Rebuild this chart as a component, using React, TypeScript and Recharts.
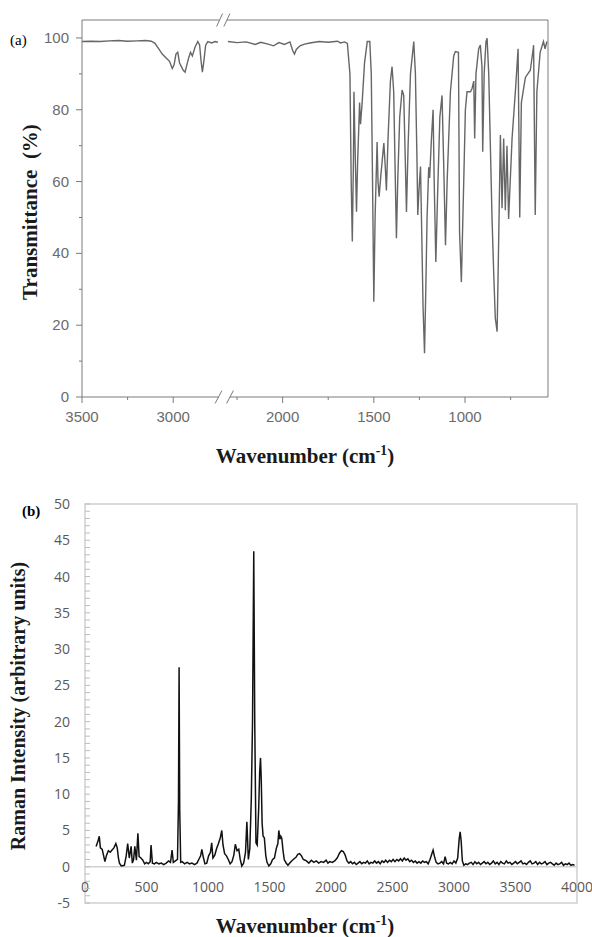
import { LineChart, Line, XAxis, YAxis, ReferenceLine, ReferenceArea } from "recharts";

// ---- (a) FTIR spectrum, broken x axis (2750..2300 cm-1 removed) ----
const IR_LEFT_WN = [
  3500, 3450, 3400, 3350, 3300, 3250, 3200, 3150, 3120, 3100, 3080, 3060, 3040, 3020, 3005, 2995,
  2985, 2975, 2965, 2955, 2945, 2935, 2925, 2915, 2905, 2895, 2880, 2865, 2855, 2848, 2840, 2832,
  2822, 2810, 2790, 2770, 2755,
];
const IR_LEFT_T = [
  99.0, 99.1, 99.0, 99.2, 99.3, 99.1, 99.2, 99.3, 99.1, 98.5, 97.0, 95.5, 94.5, 93.5, 91.5, 92.5,
  95.5, 96.0, 93.0, 92.0, 91.0, 90.5, 92.5, 94.5, 96.0, 95.0, 97.5, 99.0, 98.0, 94.0, 90.5, 93.5,
  98.0, 99.0, 98.6, 99.0, 98.8,
];

const IR_RIGHT_WN = [
  2300, 2250, 2200, 2150, 2120, 2080, 2050, 2020, 1990, 1960, 1945, 1935, 1925, 1905, 1880, 1850,
  1800, 1750, 1700, 1682, 1660, 1645, 1631, 1624, 1618, 1612, 1609, 1603, 1595, 1589, 1578, 1573,
  1564, 1551, 1536, 1522, 1514, 1507, 1500, 1493, 1482, 1477, 1471, 1461, 1445, 1436, 1431, 1422,
  1409, 1400, 1391, 1382, 1376, 1369, 1358, 1345, 1336, 1327, 1321, 1312, 1299, 1281, 1272, 1263,
  1259, 1252, 1244, 1237, 1230, 1222, 1215, 1208, 1199, 1194, 1184, 1175, 1169, 1160, 1151, 1138,
  1126, 1117, 1107, 1098, 1080, 1062, 1053, 1036, 1030, 1020, 1007, 998, 989, 970, 961, 952,
  947, 940, 925, 916, 907, 903, 895, 885, 879, 870, 861, 852, 843, 834, 824, 815,
  806, 797, 788, 779, 770, 761, 742, 724, 709, 700, 691, 669, 642, 626, 624, 615,
  606, 588, 570, 561, 551,
];
const IR_RIGHT_T = [
  99.0, 98.7, 98.9, 98.2, 98.8, 98.3, 97.8, 98.7, 98.2, 98.9, 96.5, 95.5, 96.8, 97.8, 98.3, 98.6,
  99.0, 98.8, 99.1, 98.6, 98.9, 98.5, 90, 60, 43.3, 65, 85, 70, 51.6, 65, 82, 76,
  82, 93, 99, 99, 90, 60, 26.5, 50, 71, 60, 55.8, 62, 70.7, 63, 57.5, 72,
  88, 92, 85, 60, 44.2, 60, 78, 85.5, 84, 65, 51.5, 70, 90, 99, 90, 65,
  50.7, 58, 64.2, 45, 25, 12.2, 30, 50, 64, 61, 72, 80, 60, 37.6, 55, 78,
  84, 65, 42.3, 60, 85, 95, 96.2, 96, 46, 32, 60, 80, 85, 85, 86, 88,
  72, 90, 97, 98, 92, 68.3, 90, 99, 99.9, 90, 70, 50, 35, 22, 18.2, 45,
  73, 52.6, 72, 52, 70, 49.6, 72, 85, 97, 50, 82, 89, 91, 97, 98, 50.7,
  85, 96, 99, 97, 99,
];

const IR_MAJOR_WN = [3500, 3000, 2000, 1500, 1000];
const IR_MINOR_WN = [3250, 2250, 1750, 1250, 750];
const IR_Y_TICKS = [0, 10, 20, 30, 40, 50, 60, 70, 80, 90, 100];

// ---- (b) Raman spectrum ----
const RAMAN_WN = [
  90, 105, 116, 125, 140, 162, 175, 190, 205, 220, 235, 251, 262, 272, 280, 295,
  320, 335, 347, 360, 375, 385, 395, 405, 418, 430, 440, 455, 470, 485, 500, 515,
  530, 537, 548, 565, 580, 600, 620, 640, 660, 680, 695, 708, 718, 735, 752, 760,
  765, 770, 778, 790, 810, 830, 850, 870, 890, 910, 925, 940, 950, 962, 975, 990,
  1005, 1020, 1030, 1040, 1055, 1070, 1085, 1100, 1112, 1122, 1135, 1150, 1165, 1180, 1195, 1210,
  1222, 1236, 1250, 1262, 1275, 1290, 1305, 1316, 1328, 1340, 1352, 1362, 1372, 1380, 1390, 1400,
  1412, 1420, 1427, 1433, 1440, 1448, 1458, 1470, 1480, 1495, 1510, 1525, 1540, 1555, 1568, 1576,
  1584, 1592, 1600, 1610, 1620, 1635, 1650, 1665, 1680, 1700, 1715, 1730, 1745, 1760, 1775, 1790,
  1800, 1820, 1840, 1860, 1880, 1900, 1920, 1940, 1960, 1975, 1990, 2010, 2030, 2050, 2070, 2085,
  2100, 2115, 2130, 2145, 2160, 2175, 2190, 2205, 2220, 2235, 2250, 2265, 2280, 2295, 2310, 2325,
  2340, 2355, 2370, 2385, 2400, 2415, 2430, 2445, 2460, 2475, 2490, 2505, 2520, 2535, 2550, 2565,
  2580, 2595, 2610, 2625, 2640, 2655, 2670, 2685, 2700, 2715, 2730, 2745, 2760, 2775, 2790, 2805,
  2820, 2830, 2840, 2855, 2870, 2885, 2900, 2915, 2928, 2940, 2955, 2970, 2985, 3000, 3015, 3030,
  3042, 3050, 3058, 3068, 3080, 3095, 3110, 3125, 3140, 3155, 3170, 3185, 3200, 3215, 3230, 3245,
  3260, 3275, 3290, 3305, 3320, 3335, 3350, 3365, 3380, 3395, 3410, 3425, 3440, 3455, 3470, 3485,
  3500, 3515, 3530, 3545, 3560, 3575, 3590, 3605, 3620, 3635, 3650, 3665, 3680, 3695, 3710, 3725,
  3740, 3755, 3770, 3785, 3800, 3815, 3830, 3845, 3860, 3875, 3890, 3905, 3920, 3935, 3950, 3965,
  3980,
];
const RAMAN_I = [
  2.8, 3.5, 4.2, 2.6, 2.4, 0.7, 1.6, 2.2, 2.0, 2.3, 2.6, 3.2, 2.6, 1.2, 0.5, 0.1,
  0.2, 1.5, 3.2, 1.2, 2.8, 0.5, 1.0, 2.8, 0.9, 4.6, 1.4, 1.2, 0.9, 0.4, 0.6, 0.4,
  0.7, 3.0, 0.5, 0.4, 0.6, 0.4, 0.5, 0.3, 0.5, 0.8, 0.6, 2.3, 0.6, 0.8, 1.0, 9,
  27.5, 8, 0.6, 0.7, 0.4, 0.6, 0.4, 0.5, 0.3, 0.5, 1.0, 1.5, 2.4, 1.3, 0.4, 0.5,
  1.5, 2.0, 3.3, 1.2, 1.6, 2.5, 3.2, 4.0, 5.0, 3.0, 1.8, 1.5, 1.0, 0.4, 0.7, 1.6,
  3.1, 2.2, 2.4, 1.0, 0.1, 0.5, 2.0, 6.2, 1.0, 2.5, 9.3, 20, 43.5, 20, 3.3, 3.0,
  8, 13, 15, 12, 6, 4.2, 4.0, 1.5, 0.6, 0.1, 0.4, 1.0, 1.2, 2.5, 3.2, 5.0,
  3.8, 4.2, 3.9, 2.2, 1.0, 0.5, 0.2, 0.5, 0.8, 1.1, 1.3, 1.7, 1.8, 1.5, 1.0, 0.9,
  0.8, 0.5, 0.9, 0.6, 0.8, 0.5, 0.7, 0.6, 0.9, 0.5, 0.7, 0.6, 0.8, 1.2, 1.9, 2.2,
  2.1, 1.6, 0.8, 0.5, 0.7, 0.4, 0.6, 0.3, 0.5, 0.7, 0.4, 0.6, 0.5, 0.8, 0.4, 0.6,
  0.5, 0.8, 0.5, 0.7, 0.4, 0.8, 0.6, 0.9, 0.6, 0.9, 0.7, 1.0, 0.7, 1.0, 0.8, 1.1,
  0.8, 1.2, 0.9, 1.1, 0.7, 0.9, 0.6, 0.8, 0.5, 0.7, 0.5, 0.8, 0.6, 0.7, 0.4, 1.0,
  1.8, 2.3, 1.5, 0.6, 0.4, 0.5, 0.7, 0.4, 1.4, 0.5, 0.4, 0.6, 0.4, 0.8, 0.5, 1.2,
  3.8, 4.8, 3.6, 0.8, 0.2, 0.4, 0.3, 0.5, 0.6, 0.3, 0.7, 0.4, 0.6, 0.3, 0.5, 0.7,
  0.4, 0.6, 0.3, 0.5, 0.8, 0.4, 0.6, 0.3, 0.7, 0.5, 0.4, 0.8, 0.5, 0.6, 0.3, 0.5,
  0.7, 0.4, 0.6, 0.8, 0.4, 0.5, 0.3, 0.6, 0.8, 0.4, 0.5, 0.7, 0.3, 0.6, 0.4, 0.5,
  0.7, 0.3, 0.5, 0.6, 0.4, 0.2, 0.5, 0.3, 0.4, 0.6, 0.2, 0.4, 0.3, 0.5, 0.2, 0.3,
  0.2,
];
const RAMAN_X_TICKS = [0, 500, 1000, 1500, 2000, 2500, 3000, 3500, 4000];
const RAMAN_Y_TICKS = Array.from({ length: 56 }, (_, i) => i - 5);

const GAP = 400; // cm-1 cut out of the IR axis
const toP = (w: number) => (w >= 2700 ? w : w + GAP);
const fromP = (p: number) => (p > 2700 ? p : p - GAP);

const irData = [
  ...IR_LEFT_WN.map((w, i) => ({ p: toP(w), t: IR_LEFT_T[i] })),
  { p: 2720, t: null },
  ...IR_RIGHT_WN.map((w, i) => ({ p: toP(w), t: IR_RIGHT_T[i] })),
];
const ramanData = RAMAN_WN.map((w, i) => ({ w, v: RAMAN_I[i] }));

const IR_AXIS = "#7a7a7a";
const IR_TEXT = "#6b6b6b";
const R_FRAME = "#d0d0d0";
const R_TEXT = "#595959";
const serif = "'Liberation Serif', 'Times New Roman', serif";

const IrXTick = ({ x, y, payload }: any) => {
  const major = IR_MAJOR_WN.map(toP).includes(payload.value);
  return (
    <g>
      <line x1={x} x2={x} y1={y} y2={y + (major ? 6 : 3)} stroke={IR_AXIS} />
      {major && (
        <text x={x} y={y + 25} textAnchor="middle" fontSize={15} fill={IR_TEXT} fontFamily="'Liberation Sans', Arial">
          {fromP(payload.value)}
        </text>
      )}
    </g>
  );
};

const IrYTick = ({ x, y, payload }: any) => {
  const major = payload.value % 20 === 0;
  return (
    <g>
      <line x1={x - (major ? 6 : 3)} x2={x} y1={y} y2={y} stroke={IR_AXIS} />
      {major && (
        <text x={x - 13} y={y + 5} textAnchor="end" fontSize={15} fill={IR_TEXT} fontFamily="'Liberation Sans', Arial">
          {payload.value}
        </text>
      )}
    </g>
  );
};

const RamanXTick = ({ x, y, payload }: any) => (
  <text x={x} y={y - 11} textAnchor="middle" fontSize={14} fill={R_TEXT} fontFamily="'Open Sans', sans-serif">
    {payload.value}
  </text>
);

const RamanYTick = ({ x, y, payload }: any) => {
  const major = payload.value % 5 === 0;
  return (
    <g>
      <line x1={x} x2={x + 5} y1={y} y2={y} stroke="#bdbdbd" />
      {major && (
        <text x={x - 15} y={y + 5} textAnchor="end" fontSize={14} fill={R_TEXT} fontFamily="'Open Sans', sans-serif">
          {payload.value}
        </text>
      )}
    </g>
  );
};

const Title = ({ x, y, rotate, size, children }: any) => (
  <div
    style={{
      position: "absolute",
      left: x,
      top: y,
      transform: `translate(-50%, -50%)${rotate ? " rotate(-90deg)" : ""}`,
      whiteSpace: "nowrap",
      fontFamily: serif,
      fontWeight: "bold",
      fontSize: size,
      color: "#1a1a1a",
      lineHeight: 1,
    }}
  >
    {children}
  </div>
);

export default function App() {
  return (
    <div style={{ position: "absolute", left: 0, top: 0, width: 592, height: 937, background: "#fff" }}>
      <div style={{ position: "absolute", left: 0, top: 0 }}>
        <LineChart width={592} height={440} data={irData} margin={{ top: 20, right: 44, bottom: 0, left: 0 }}>
          <XAxis
            type="number"
            dataKey="p"
            domain={[945, 3500]}
            reversed
            ticks={[...IR_MAJOR_WN, ...IR_MINOR_WN].map(toP)}
            interval={0}
            tickSize={0}
            tickMargin={0}
            tick={<IrXTick />}
            axisLine={false}
            height={43}
          />
          <YAxis
            type="number"
            domain={[0, 105]}
            ticks={IR_Y_TICKS}
            interval={0}
            tickSize={0}
            tickMargin={0}
            tick={<IrYTick />}
            axisLine={{ stroke: IR_AXIS }}
            width={82}
          />
          {/* frame with break */}
          <ReferenceLine segment={[{ x: 3500, y: 0 }, { x: 2750, y: 0 }]} stroke={IR_AXIS} ifOverflow="visible" />
          <ReferenceLine segment={[{ x: 2690, y: 0 }, { x: 945, y: 0 }]} stroke={IR_AXIS} ifOverflow="visible" />
          <ReferenceLine segment={[{ x: 3500, y: 105 }, { x: 2745, y: 105 }]} stroke={IR_AXIS} ifOverflow="visible" />
          <ReferenceLine segment={[{ x: 2705, y: 105 }, { x: 945, y: 105 }]} stroke={IR_AXIS} ifOverflow="visible" />
          <ReferenceLine segment={[{ x: 945, y: 0 }, { x: 945, y: 105 }]} stroke={IR_AXIS} ifOverflow="visible" />
          <ReferenceLine segment={[{ x: 2762, y: 103.2 }, { x: 2729, y: 106.8 }]} stroke={IR_AXIS} ifOverflow="visible" />
          <ReferenceLine segment={[{ x: 2722, y: 103.2 }, { x: 2689, y: 106.8 }]} stroke={IR_AXIS} ifOverflow="visible" />
          <ReferenceLine segment={[{ x: 2770, y: -1.8 }, { x: 2733, y: 1.8 }]} stroke={IR_AXIS} ifOverflow="visible" />
          <ReferenceLine segment={[{ x: 2707, y: -1.8 }, { x: 2670, y: 1.8 }]} stroke={IR_AXIS} ifOverflow="visible" />
          <Line
            type="linear"
            dataKey="t"
            stroke="#666"
            strokeWidth={1.4}
            dot={false}
            connectNulls={false}
            isAnimationActive={false}
          />
        </LineChart>
      </div>

      <div style={{ position: "absolute", left: 0, top: 480 }}>
        <LineChart width={592} height={440} data={ramanData} margin={{ top: 24, right: 15, bottom: 0, left: 0 }}>
          <XAxis
            type="number"
            dataKey="w"
            domain={[0, 4000]}
            ticks={RAMAN_X_TICKS}
            interval={0}
            tickSize={0}
            tickMargin={0}
            tick={<RamanXTick />}
            axisLine={false}
            height={17}
          />
          <YAxis
            type="number"
            domain={[-5, 50]}
            ticks={RAMAN_Y_TICKS}
            interval={0}
            tickSize={0}
            tickMargin={0}
            tick={<RamanYTick />}
            axisLine={false}
            width={85}
          />
          <ReferenceArea x1={0} x2={4000} y1={-5} y2={50} fill="none" stroke={R_FRAME} strokeWidth={1.5} />
          <ReferenceLine y={0} stroke={R_FRAME} strokeWidth={1.5} />
          <Line
            type="linear"
            dataKey="v"
            stroke="#111"
            strokeWidth={1.5}
            dot={false}
            isAnimationActive={false}
          />
        </LineChart>
      </div>

      <div style={{ position: "absolute", left: 10, top: 32, fontFamily: serif, fontSize: 15 }}>(a)</div>
      <div style={{ position: "absolute", left: 22, top: 503, fontFamily: serif, fontSize: 15, fontWeight: "bold" }}>(b)</div>

      <Title x={30} y={212} rotate size={21}>
        Transmittance&nbsp; (%)
      </Title>
      <Title x={305} y={455} size={21}>
        Wavenumber (cm<sup style={{ fontSize: "0.65em" }}>-1</sup>)
      </Title>
      <Title x={18} y={706} rotate size={20}>
        Raman Intensity (arbitrary units)
      </Title>
      <Title x={305} y={925} size={21}>
        Wavenumber (cm<sup style={{ fontSize: "0.65em" }}>-1</sup>)
      </Title>
    </div>
  );
}
